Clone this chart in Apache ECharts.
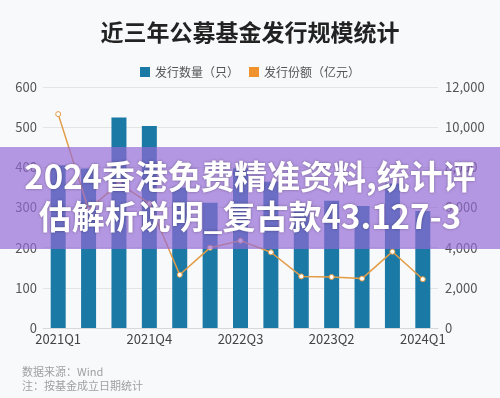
<!DOCTYPE html>
<html>
<head>
<meta charset="utf-8">
<script src="https://cdn.jsdelivr.net/npm/echarts@6/dist/echarts.min.js"></script>
<style>
  html, body { margin: 0; padding: 0; background: #f8f9fb; }
  #chart { width: 500px; height: 398px; }
</style>
</head>
<body>
<div id="chart"></div>
<script>
  // 季度
  const quarters = ['2021Q1', '2021Q2', '2021Q3', '2021Q4', '2022Q1', '2022Q2', '2022Q3',
    '2022Q4', '2023Q1', '2023Q2', '2023Q3', '2023Q4', '2024Q1']
  // 发行数量（只）
  const fundCount = [405, 397, 524, 503, 350, 312, 398, 364, 300, 317, 304, 360, 291]
  // 发行份额（亿元）
  const fundShare = [10650, 5900, 7200, 6200, 2650, 4000, 4350, 3770, 2570, 2540, 2460, 3800, 2430]

  const font = '"Noto Sans CJK SC", "Noto Sans", sans-serif'
  let mycharts = echarts.init(document.getElementById('chart'))
  mycharts.setOption({
    backgroundColor: '#f8f9fb',
    textStyle: { fontFamily: font },
    title: {
      text: '近三年公募基金发行规模统计',
      left: 'center',
      top: 16,
      textStyle: { fontSize: 23, fontWeight: 'bold', color: '#222', fontFamily: font }
    },
    legend: {
      top: 61,
      left: 'center',
      itemWidth: 10,
      itemHeight: 10,
      itemGap: 10,
      icon: 'rect',
      textStyle: { fontSize: 12, color: '#555', fontFamily: font },
      data: [
        { name: '发行数量（只）', itemStyle: { color: '#1b7aa5' } },
        { name: '发行份额（亿元）', itemStyle: { color: '#f0922e', borderWidth: 0 } }
      ]
    },
    grid: { left: 43, right: 62, top: 87, bottom: 70 },
    xAxis: {
      type: 'category',
      data: quarters,
      axisLine: { lineStyle: { color: '#d8d8d8' } },
      axisTick: { show: false },
      axisLabel: { interval: 2, color: '#444', fontSize: 13, margin: 5, fontFamily: font }
    },
    yAxis: [
      {
        type: 'value',
        min: 0, max: 600, interval: 100,
        axisLabel: { color: '#555', fontSize: 13, margin: 6, fontFamily: font },
        splitLine: { lineStyle: { color: '#e4e4e4' } }
      },
      {
        type: 'value',
        min: 0, max: 12000, interval: 2000,
        axisLabel: { color: '#555', fontSize: 13, margin: 7, fontFamily: font },
        splitLine: { show: false }
      }
    ],
    series: [
      {
        name: '发行数量（只）',
        type: 'bar',
        data: fundCount,
        barWidth: 15,
        itemStyle: { color: '#1b7aa5' }
      },
      {
        name: '发行份额（亿元）',
        type: 'line',
        yAxisIndex: 1,
        data: fundShare,
        symbol: 'circle',
        symbolSize: 5,
        lineStyle: { color: '#e39b45', width: 1.5 },
        itemStyle: { color: '#fff', borderColor: '#e39b45', borderWidth: 1 },
        z: 3
      }
    ],
    graphic: [
      {
        type: 'text', left: 22, top: 366,
        style: { text: '数据来源：Wind', fill: '#a0a0a0', fontSize: 11, fontFamily: font }
      },
      {
        type: 'text', left: 22, top: 380,
        style: { text: '注：按基金成立日期统计', fill: '#a0a0a0', fontSize: 11, fontFamily: font }
      },
      // 水印横幅
      {
        type: 'rect', left: 0, top: 147, z: 100,
        shape: { width: 500, height: 102 },
        style: { fill: 'rgba(148,104,214,0.68)' }
      },
      {
        type: 'text', left: 'center', top: 160, z: 101,
        style: {
          text: '2024香港免费精准资料,统计评', fill: '#fff', fontSize: 33, fontWeight: 'bold',
          fontFamily: font, textShadowColor: 'rgba(0,0,0,0.35)', textShadowBlur: 3
        }
      },
      {
        type: 'text', left: 'center', top: 200, z: 101,
        style: {
          text: '估解析说明_复古款43.127-3', fill: '#fff', fontSize: 33, fontWeight: 'bold',
          fontFamily: font, textShadowColor: 'rgba(0,0,0,0.35)', textShadowBlur: 3
        }
      }
    ]
  })
</script>
</body>
</html>
